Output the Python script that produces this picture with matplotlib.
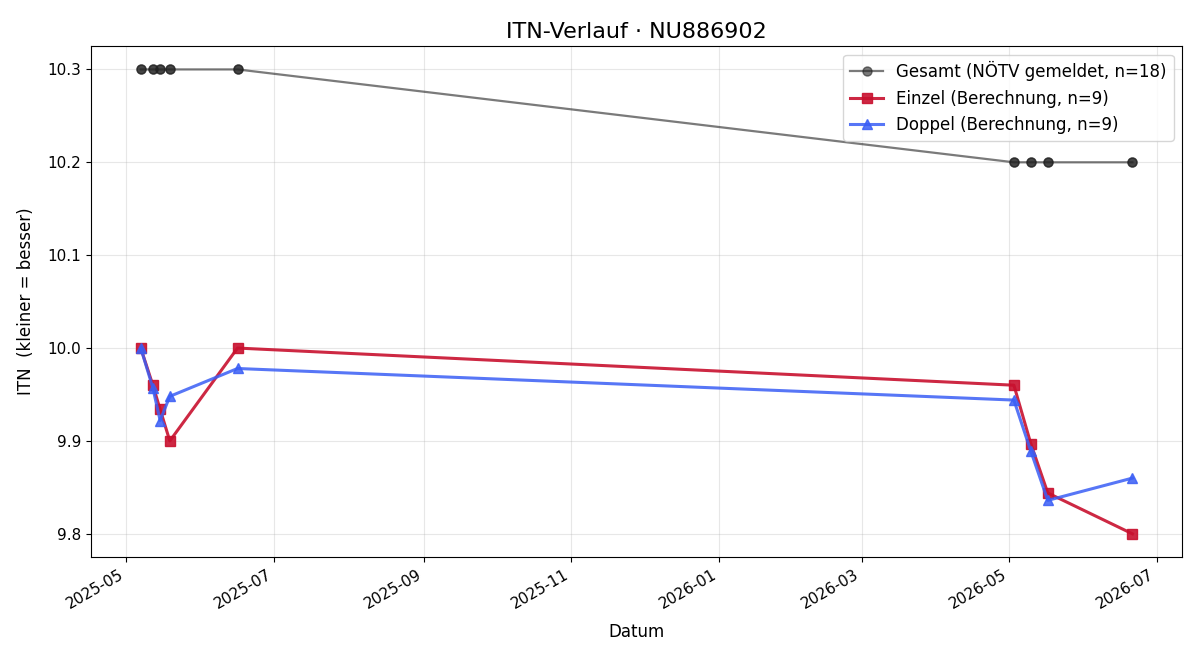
import matplotlib
matplotlib.use("Agg")
import matplotlib.pyplot as plt
import matplotlib.dates as mdates
import pandas as pd

# === DATA ===
GESAMT_DATES = ["2025-05-07", "2025-05-07", "2025-05-12", "2025-05-12", "2025-05-15", "2025-05-15",
                "2025-05-19", "2025-05-19", "2025-06-16", "2025-06-16",
                "2026-05-03", "2026-05-03", "2026-05-10", "2026-05-10", "2026-05-17", "2026-05-17",
                "2026-06-21", "2026-06-21"]
GESAMT_ITN = [10.3, 10.3, 10.3, 10.3, 10.3, 10.3, 10.3, 10.3, 10.3, 10.3,
              10.2, 10.2, 10.2, 10.2, 10.2, 10.2, 10.2, 10.2]

CALC_DATES = ["2025-05-07", "2025-05-12", "2025-05-15", "2025-05-19", "2025-06-16",
              "2026-05-03", "2026-05-10", "2026-05-17", "2026-06-21"]
EINZEL_ITN = [10.0, 9.960, 9.934, 9.900, 10.0, 9.960, 9.897, 9.844, 9.800]
DOPPEL_ITN = [10.0, 9.957, 9.922, 9.948, 9.978, 9.944, 9.889, 9.836, 9.860]

# === CHART ===
fig, ax = plt.subplots(figsize=(12, 6.6), dpi=100)

ax.plot(pd.to_datetime(GESAMT_DATES), GESAMT_ITN, marker='o', markersize=6.5, linewidth=1.6,
        color='#222222', alpha=0.6, label="Gesamt (NÖTV gemeldet, n=18)")
ax.plot(pd.to_datetime(CALC_DATES), EINZEL_ITN, marker='s', markersize=7, linewidth=2.2,
        color='#c8102e', alpha=0.9, label="Einzel (Berechnung, n=9)")
ax.plot(pd.to_datetime(CALC_DATES), DOPPEL_ITN, marker='^', markersize=7, linewidth=2.2,
        color='#3a5ef5', alpha=0.85, label="Doppel (Berechnung, n=9)")

ax.set_title("ITN-Verlauf · NU886902", fontsize=16)
ax.set_xlabel("Datum", fontsize=12, labelpad=8)
ax.set_ylabel("ITN  (kleiner = besser)", fontsize=12, labelpad=9)
ax.tick_params(labelsize=11)
ax.xaxis.set_major_locator(mdates.MonthLocator(bymonth=[1, 3, 5, 7, 9, 11]))
ax.xaxis.set_major_formatter(mdates.DateFormatter("%Y-%m"))
ax.grid(True, alpha=0.3)
ax.legend(loc='upper right', fontsize=12)
fig.autofmt_xdate()
fig.subplots_adjust(left=0.076, right=0.985, top=0.930, bottom=0.156)
fig.savefig("out.png")
